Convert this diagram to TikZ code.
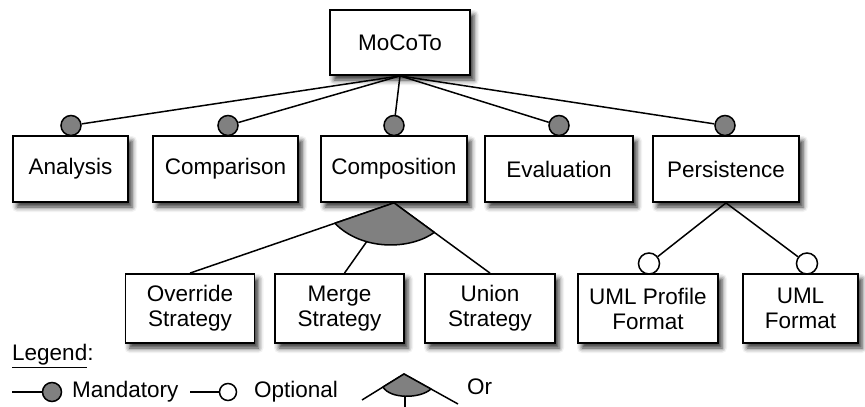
\documentclass[tikz,border=0pt]{standalone}
\usepackage{fontspec}
\setmainfont{Liberation Sans}
\usetikzlibrary{calc,shadows.blur}
\definecolor{featgray}{gray}{0.5}
\begin{document}
\begin{tikzpicture}[x=1pt,y=-1pt,
  feature/.style={draw=black,line width=1.8pt,fill=white,inner sep=0pt,
    align=center,font=\fontsize{22.5}{25}\selectfont,
    blur shadow={shadow xshift=4pt,shadow yshift=-5pt,shadow blur radius=5pt,shadow opacity=80}},
  conn/.style={line width=1.5pt,black},
  mand/.style={circle,draw=black,line width=1.5pt,fill=featgray,minimum size=20pt,inner sep=0pt},
  opt/.style={circle,draw=black,line width=1.5pt,fill=white,minimum size=21pt,inner sep=0pt},
  ortri/.style={draw=black,line width=1.5pt,fill=featgray,line join=round},
  lbl/.style={font=\fontsize{22.5}{25}\selectfont,inner sep=0pt}]
\useasboundingbox (0,0) rectangle (865,407);

% root and first-level features
\node[feature,minimum width=140pt,minimum height=65pt] (root) at (400,42.5) {MoCoTo};
\node[feature,minimum width=115pt,minimum height=66pt] (ana) at (70.5,169) {Analysis};
\node[feature,minimum width=145pt,minimum height=66pt] (cmp) at (225.5,169) {Comparison};
\node[feature,minimum width=146pt,minimum height=66pt] (comp) at (394,169) {Composition};
\node[feature,minimum width=148pt,minimum height=66pt] (eval) at (559,169) {Evaluation};
\node[feature,minimum width=146pt,minimum height=66pt] (pers) at (726,169) {Persistence};

% second-level features
\node[feature,minimum width=129pt,minimum height=69pt] (ovr) at (190,308.5) {Override\\Strategy};
\node[feature,minimum width=129pt,minimum height=69pt] (mrg) at (339.5,308.5) {Merge\\Strategy};
\node[feature,minimum width=130pt,minimum height=69pt] (uni) at (490,308.5) {Union\\Strategy};
\node[feature,minimum width=140pt,minimum height=69pt] (umlp) at (648,308.5) {UML Profile\\Format};
\node[feature,minimum width=115pt,minimum height=69pt] (umlf) at (800.5,308.5) {UML\\Format};

% mandatory sub-features of the root
\node[mand] (mA) at (71,125.5) {};
\node[mand] (mC) at (228,125.5) {};
\node[mand] (mP) at (394,125.5) {};
\node[mand] (mE) at (559,125.5) {};
\node[mand] (mS) at (725,125.5) {};
\foreach \m in {mA,mC,mP,mE,mS}
  \draw[conn] (root.south) -- (\m);

% or-group below Composition
\draw[conn] (comp.south) -- (ovr.north);
\draw[conn] (comp.south) -- ([xshift=5pt]mrg.north);
\draw[conn] (comp.south) -- (uni.north);
\coordinate (orL) at ($(comp.south)!0.29!(ovr.north)$);
\coordinate (orR) at ($(comp.south)!0.42!(uni.north)$);
\draw[ortri] (comp.south) -- (orL) .. controls (362,251) and (410,250) .. (orR) -- cycle;

% optional sub-features of Persistence
\node[opt] (o1) at (649,263.5) {};
\node[opt] (o2) at (807,263.5) {};
\draw[conn] (pers.south) -- (o1);
\draw[conn] (pers.south) -- (o2);

% legend
\node[lbl,anchor=west] (leg) at (12,356) {\underline{Legend}:};
\coordinate (lm0) at (12,392);
\node[mand,minimum size=19pt] (lm) at (52,392) {};
\draw[conn] (lm0) -- (lm);
\node[lbl,anchor=west] (lmt) at (72,392) {Mandatory};
\coordinate (lo0) at (190,392);
\node[opt,minimum size=17pt] (lo) at (228,392) {};
\draw[conn] (lo0) -- (lo);
\node[lbl,anchor=west] (lot) at (254,392) {Optional};
\coordinate (lr) at (404,374);
\coordinate (lrA) at (362,400);
\coordinate (lrB) at (458,404);
\coordinate (lrC) at (405,396);
\coordinate (lrD) at (405,408);
\draw[conn] (lrA) -- (lr) -- (lrB);
\draw[conn] (lrC) -- (lrD);
\coordinate (lrL) at ($(lr)!0.5!(lrA)$);
\coordinate (lrR) at ($(lr)!0.5!(lrB)$);
\draw[ortri] (lr) -- (lrL) .. controls (390,399) and (420,399) .. (lrR) -- cycle;
\node[lbl,anchor=west] (lrt) at (467,387) {Or};
\end{tikzpicture}
\end{document}
